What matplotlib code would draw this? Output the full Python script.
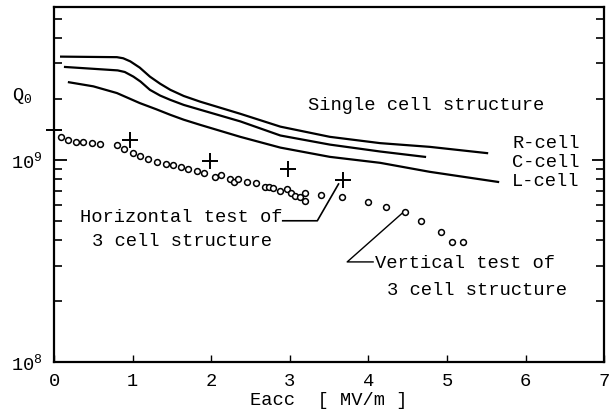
import numpy as np
import matplotlib
matplotlib.use('Agg')
import matplotlib.pyplot as plt
from matplotlib.ticker import FixedLocator, FixedFormatter, NullFormatter

# ---- datos ----
# estructuras de una celda (curvas continuas)
r_x = [0.09, 0.80, 0.88, 0.97, 1.09, 1.22, 1.35, 1.48, 1.65, 1.86, 2.37, 2.88, 3.51, 4.15, 4.78, 5.51]
r_q = [3.24e9, 3.22e9, 3.18e9, 3.07e9, 2.86e9, 2.58e9, 2.38e9, 2.22e9, 2.07e9, 1.94e9, 1.69e9,
       1.46e9, 1.30e9, 1.21e9, 1.16e9, 1.08e9]
c_x = [0.14, 0.81, 0.90, 1.01, 1.10, 1.22, 1.35, 1.48, 1.65, 1.86, 2.37, 2.88, 3.51, 4.15, 4.72]
c_q = [2.88e9, 2.77e9, 2.72e9, 2.58e9, 2.44e9, 2.22e9, 2.08e9, 1.98e9, 1.87e9, 1.77e9, 1.55e9,
       1.32e9, 1.19e9, 1.10e9, 1.035e9]
l_x = [0.19, 0.50, 0.80, 1.09, 1.30, 1.48, 1.65, 1.86, 2.37, 2.88, 3.51, 4.15, 4.78, 5.65]
l_q = [2.42e9, 2.31e9, 2.14e9, 1.91e9, 1.78e9, 1.67e9, 1.58e9, 1.49e9, 1.30e9, 1.15e9, 1.035e9,
       9.67e8, 8.73e8, 7.78e8]

# ensayo horizontal (cruces)
h_x = [0.0, 0.97, 1.98, 2.98, 3.68]
h_q = [1.41e9, 1.26e9, 9.93e8, 9.03e8, 7.96e8]

# ensayo vertical (circulos)
v_x = [0.09, 0.18, 0.28, 0.37, 0.48, 0.58, 0.80, 0.89, 1.00, 1.09, 1.20, 1.31, 1.43,
       1.52, 1.62, 1.71, 1.82, 1.91, 2.05, 2.13, 2.24, 2.29, 2.34, 2.46, 2.57, 2.68,
       2.73, 2.79, 2.87, 2.96, 3.02, 3.07, 3.13, 3.19, 3.19, 3.40, 3.67, 3.99, 4.23,
       4.46, 4.67, 4.93, 5.07, 5.20]
v_q = [1.30e9, 1.26e9, 1.23e9, 1.22e9, 1.21e9, 1.20e9, 1.19e9, 1.13e9, 1.08e9, 1.05e9,
       1.015e9, 9.8e8, 9.56e8, 9.45e8, 9.18e8, 8.98e8, 8.79e8, 8.59e8, 8.21e8, 8.44e8,
       8.02e8, 7.76e8, 8.02e8, 7.76e8, 7.67e8, 7.38e8, 7.33e8, 7.24e8, 7.05e8, 7.16e8,
       6.89e8, 6.64e8, 6.58e8, 6.89e8, 6.27e8, 6.72e8, 6.53e8, 6.18e8, 5.88e8, 5.51e8,
       5.01e8, 4.42e8, 3.94e8, 3.92e8]

x_ticks = [0, 1, 2, 3, 4, 5, 6, 7]

# ---- estilo ----
mono = 'Liberation Mono'
plt.rcParams.update({'font.family': mono, 'font.size': 13.5,
                     'mathtext.fontset': 'custom', 'mathtext.rm': mono,
                     'mathtext.default': 'rm'})

fig = plt.figure(figsize=(6.14, 4.12), dpi=100)
ax = fig.add_axes([0.088, 0.121, 0.896, 0.862])

for xs, qs in [(r_x, r_q), (c_x, c_q), (l_x, l_q)]:
    ax.plot(xs, qs, color='black', lw=1.6, solid_joinstyle='round')
ax.plot(h_x, h_q, ls='none', marker='+', ms=11, mew=1.4, color='black', clip_on=False)
ax.plot(v_x, v_q, ls='none', marker='o', ms=4.2, mfc='white', mec='black', mew=1.1)

ax.set_yscale('log')
ax.set_xlim(0, 7)
ax.set_ylim(1e8, 5.7e9)

# ticks
ax.xaxis.set_major_locator(FixedLocator(x_ticks))
ax.set_xticklabels([str(v) for v in x_ticks])
ax.tick_params(axis='x', direction='in', length=5, width=1, pad=8, labelsize=13.5)
ax.yaxis.set_major_locator(FixedLocator([1e8, 1e9]))
ax.yaxis.set_major_formatter(FixedFormatter(['10$^{8}$', '10$^{9}$']))
minors = [k * 10.0**e for e in (8, 9) for k in range(2, 10)]
ax.yaxis.set_minor_locator(FixedLocator(minors))
ax.yaxis.set_minor_formatter(NullFormatter())
ax.tick_params(axis='y', which='major', direction='in', length=9, width=1.3,
               right=True, pad=8, labelsize=13.5)
ax.tick_params(axis='y', which='minor', direction='in', length=6, width=1.2, right=True)
for s in ax.spines.values():
    s.set_linewidth(1.6)

ax.set_xlabel('Eacc  [ MV/m ]', labelpad=1)
ax.set_ylabel('Q$_0$', rotation=0)
ax.yaxis.set_label_coords(-0.058, 0.72)

# textos
ax.text(3.23, 1.85e9, 'Single cell structure', va='center')
ax.text(5.83, 1.2e9, 'R-cell', va='center')
ax.text(5.83, 9.67e8, 'C-cell', va='center')
ax.text(5.83, 7.78e8, 'L-cell', va='center')
ax.text(0.33, 5.17e8, 'Horizontal test of', va='center')
ax.text(0.48, 3.93e8, '3 cell structure', va='center')
ax.text(4.08, 3.09e8, 'Vertical test of', va='center')
ax.text(4.24, 2.27e8, '3 cell structure', va='center')

# lineas guia
ax.plot([2.91, 3.35, 3.62], [5.0e8, 5.0e8, 7.6e8], color='black', lw=1.2)
ax.plot([4.06, 3.73, 4.43], [3.13e8, 3.13e8, 5.45e8], color='black', lw=1.0)

fig.savefig('out.png', dpi=100)
